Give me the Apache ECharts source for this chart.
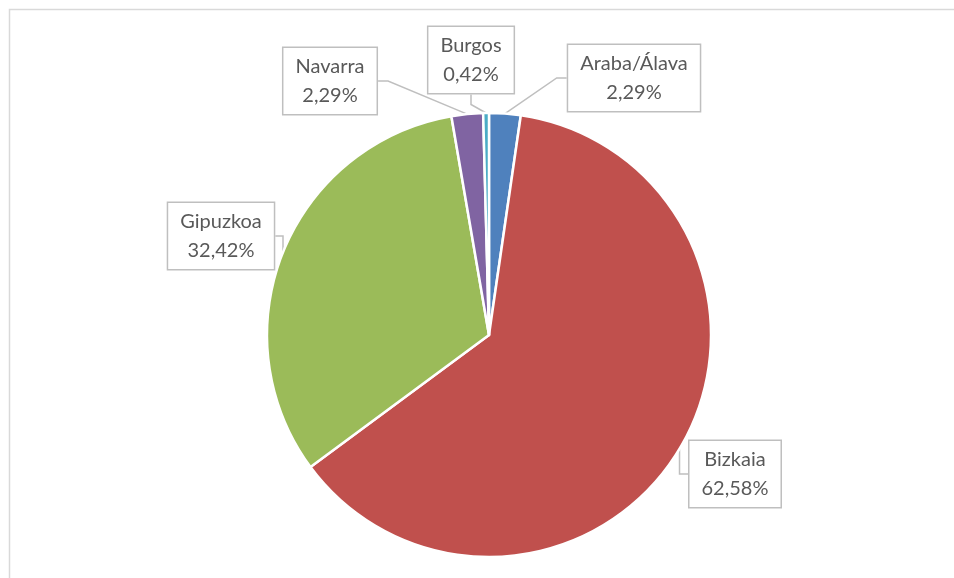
<!DOCTYPE html>
<html>
<head>
<meta charset="utf-8">
<script src="https://cdn.jsdelivr.net/npm/echarts@6/dist/echarts.min.js"></script>
<style>
  html, body { margin: 0; padding: 0; background: #fff; }
  #main { width: 954px; height: 578px; }
</style>
</head>
<body>
<div id="main"></div>
<script>
// provincias y porcentajes
var provinces = ['Araba/Álava', 'Bizkaia', 'Gipuzkoa', 'Navarra', 'Burgos']
var shares = [2.29, 62.58, 32.42, 2.29, 0.42]
var colors = ['#4F81BD', '#C0504D', '#9BBB59', '#8064A2', '#4BACC6']

// where each callout box sits (centre of the box)
var labelSpots = {
  'Araba/Álava': [634, 78],
  'Bizkaia': [735, 474],
  'Gipuzkoa': [221, 236],
  'Navarra': [330, 81],
  'Burgos': [471, 60]
}

var myChart = echarts.init(document.getElementById('main'))

var option = {
  animation: false,
  color: colors,
  graphic: [{
    type: 'rect',
    shape: { x: 9.5, y: 9.5, width: 1200, height: 1200 },
    style: { fill: 'none', stroke: '#D9D9D9', lineWidth: 1.5 },
    silent: true
  }],
  series: [{
    type: 'pie',
    center: [489, 335],
    radius: 222,
    startAngle: 90,
    clockwise: true,
    data: provinces.map(function (name, i) {
      return { name: name, value: shares[i] }
    }),
    itemStyle: { borderColor: '#fff', borderWidth: 2.5 },
    label: {
      show: true,
      position: 'outside',
      formatter: function (p) {
        return p.name + '\n' + p.value.toFixed(2).replace('.', ',') + '%'
      },
      fontFamily: 'Lato',
      fontSize: 20,
      lineHeight: 29,
      color: '#595959',
      align: 'center',
      backgroundColor: '#fff',
      borderColor: '#BFBFBF',
      borderWidth: 1.5,
      padding: [4, 12]
    },
    labelLine: {
      show: true,
      length: 10,
      length2: 10,
      lineStyle: { color: '#BFBFBF', width: 1.5 }
    },
    labelLayout: function (p) {
      var spot = labelSpots[provinces[p.dataIndex]]
      return {
        x: spot[0],
        y: spot[1],
        align: 'center',
        verticalAlign: 'middle',
        hideOverlap: false
      }
    },
    emphasis: { disabled: true }
  }]
}

myChart.setOption(option)
</script>
</body>
</html>
